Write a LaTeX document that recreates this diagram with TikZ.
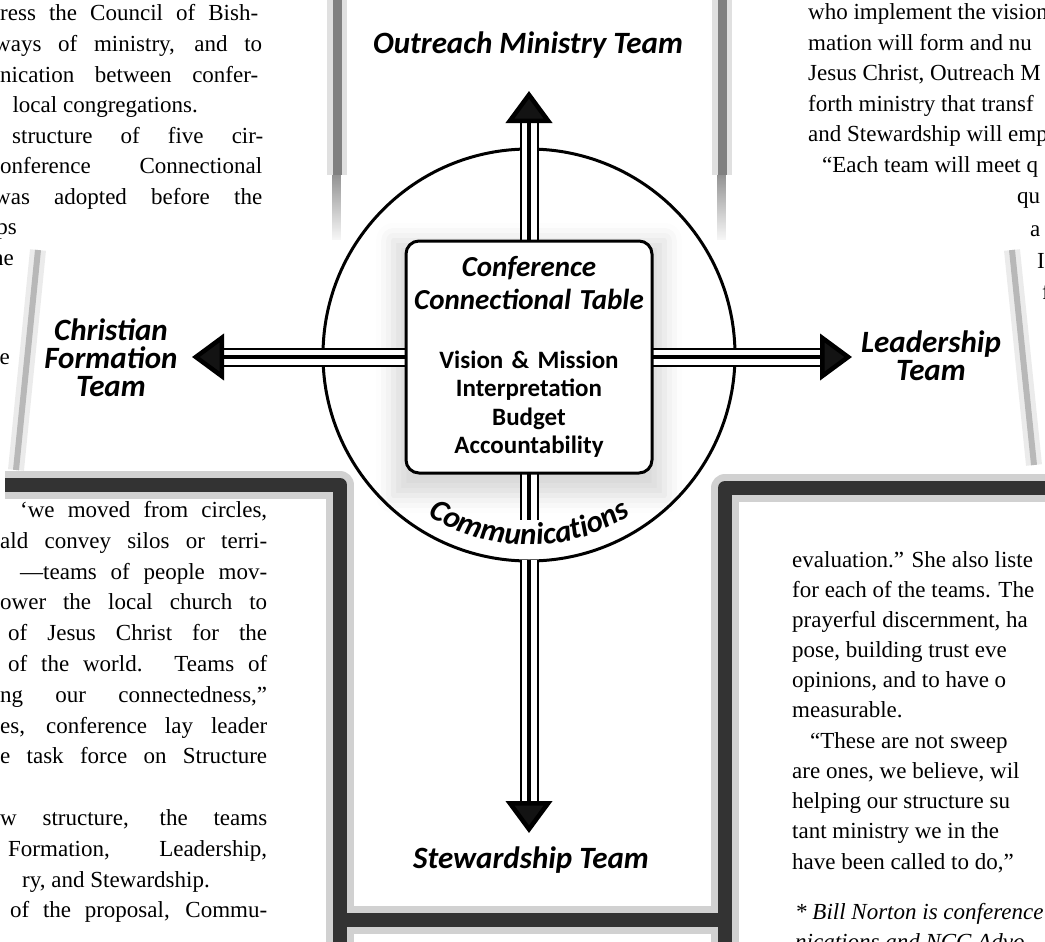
\documentclass[tikz,border=0pt]{standalone}
\usepackage{fontspec}
\setmainfont{Liberation Serif}
\newfontfamily\calibri{Carlito}
\usetikzlibrary{arrows.meta,decorations.text,fadings,shadows.blur}

\begin{document}
\begin{tikzpicture}[x=1pt,y=-1pt,
    col/.style={font=\fontsize{23}{30}\selectfont, inner sep=0pt},
    team/.style={font=\calibri\bfseries\itshape\fontsize{31}{28}\selectfont, align=center, inner sep=0pt},
    cctbox/.style={draw, line width=3pt, rounded corners=13pt, fill=white,
        minimum width=246pt, minimum height=232pt, text width=240pt, align=center, inner sep=0pt,
        font=\calibri\bfseries\fontsize{25}{28.5}\selectfont},
    shaft/.style={line width=2pt, double distance=15pt},
    core/.style={line width=4.5pt},
    head/.style={-{Triangle[length=32pt,width=46pt]}},
    halo/.style={line width=28pt, draw=black!18},
    band/.style={line width=14pt, draw=black!80}]

    \def\page{(0,0) rectangle (1045,942)}
    \def\ttlfont{\itshape\fontsize{29}{33}\selectfont}
    \def\dutyfont{\upshape\fontsize{25}{28.5}\selectfont}

    \useasboundingbox \page;
    \clip \page;

    %column text, justified lines:
    \foreach \xl/\w/\yb/\txt [count=\i] in {
        0/258/21/{ress the Council of Bish-},
        -6/268/51.5/{ways of ministry, and to},
        0/258/82/{nication between confer-},
        12/251/143/{structure of five cir-},
        0/262/173.5/{onference Connectional},
        -6/268/204/{was adopted before the},
        20/247/517/{‘we moved from circles,},
        0/267/548/{ald convey silos or terri-},
        20/247/579/{—teams of people mov-},
        0/267/609/{ower the local church to},
        8/259/640/{of Jesus Christ for the},
        8/259/671/{of the world. Teams of},
        0/267/702/{ng our connectedness,”},
        0/267/733/{es, conference lay leader},
        0/267/763/{e task force on Structure},
        0/267/825/{w structure, the teams},
        8/259/856/{Formation, Leadership,},
        10/257/917/{of the proposal, Commu-}}
        \node[col, anchor=base west] (jl\i) at (\xl,\yb) {\makebox[\w pt][s]{\txt}};

    %column text, loose lines:
    \foreach \xr/\yb/\txt [count=\i] in {
        198/112.5/{local congregations.},
        17/234.5/{ps},
        14/265/{ne},
        10/364/{e},
        210/887/{ry, and Stewardship.}}
        \node[col, anchor=base east] (ll\i) at (\xr,\yb) {\txt};

    \foreach \xl/\yb/\txt [count=\i] in {
        808/20/{who implement the vision},
        808/50.5/{mation will form and nu},
        808/81/{Jesus Christ, Outreach M},
        808/111.5/{forth ministry that transf},
        808/142/{and Stewardship will emp},
        822/172.5/{“Each team will meet q},
        1017/203/{qu},
        1030/236/{a},
        1037/268/{I},
        1042/299/{f},
        792/567/{evaluation.” She also liste},
        792/597/{for each of the teams. The},
        792/627/{prayerful discernment, ha},
        792/657/{pose, building trust eve},
        792/687/{opinions, and to have o},
        792/717/{measurable.},
        810/748/{“These are not sweep},
        792/778/{are ones, we believe, wil},
        792/808/{helping our structure su},
        792/838/{tant ministry we in the},
        792/869/{have been called to do,”},
        795/919/{\itshape * Bill Norton is conference},
        795/949/{\itshape nications and NCC Advo}}
        \node[col, anchor=base west] (rl\i) at (\xl,\yb) {\txt};

    %the cross-shaped frame:
    \def\toparm{(337,-10) -- (337,175) (722,-10) -- (722,175)}
    \def\topfade{(337,175) -- (337,240) (722,175) -- (722,240)}
    \def\sidearms{(38,250) -- (16,470) (1012,250) -- (1034,465)}
    \def\lowerarm{(5,485) -- (340,485) -- (340,945) (340,920) -- (725,920) (725,945) -- (725,488) -- (1050,488)}

    \draw[halo, draw=black!12, line width=20pt] \toparm;
    \draw[band, draw=black!50, line width=9pt] \toparm;
    \draw[band, draw=black!45, line width=9pt, path fading=south] \topfade;
    \draw[halo, draw=black!8, line width=16pt] \sidearms;
    \draw[band, draw=black!28, line width=6pt] \sidearms;
    \draw[halo, line join=round] \lowerarm;
    \draw[band, line join=round] \lowerarm;

    %circle and arrows:
    \coordinate (hub) at (529,357);
    \node[circle, draw, line width=3pt, minimum size=412pt, inner sep=0pt] (ring) at (529,355) {};

    %soft grey haze round the table
    \path[blur shadow={shadow xshift=0pt, shadow yshift=-10pt, shadow scale=1.1,
        shadow blur radius=16pt, shadow opacity=15}]
        (406,241) rectangle (652,473);

    \coordinate (outtip) at (529,91);
    \coordinate (cftip) at (192,357);
    \coordinate (ldtip) at (852,357);
    \coordinate (stewtip) at (529,833);
    \coordinate (commtop) at (529,520);
    \coordinate (commbot) at (529,560);

    \foreach \tip in {outtip,cftip,ldtip} {
        \draw[shaft, shorten >=30pt] (hub) -- (\tip);
        \draw[core, head] (hub) -- (\tip);
    }
    \draw[shaft] (hub) -- (commtop);
    \draw[core] (hub) -- (commtop);
    \draw[shaft, shorten >=30pt] (commbot) -- (stewtip);
    \draw[core, head] (commbot) -- (stewtip);

    %the table in the middle:
    \node[cctbox] (cct) at (hub) {\ttlfont Conference\\Connectional Table\\[30pt]\dutyfont Vision \& Mission\\Interpretation\\Budget\\Accountability};

    \path[decorate, decoration={text along path, text align=center,
        text={|\calibri\bfseries\itshape\fontsize{31}{31}\selectfont|Communications}}]
        (hub) ++(230:188pt) arc[start angle=230, end angle=310, radius=188pt];

    %team names:
    \node[team] (outreach) at (528,45) {Outreach Ministry Team};
    \node[team] (formation) at (111,358) {Christian\\Formation\\Team};
    \node[team] (leadership) at (931,356) {Leadership\\Team};
    \node[team] (stewardship) at (531,860) {Stewardship Team};

\end{tikzpicture}
\end{document}
